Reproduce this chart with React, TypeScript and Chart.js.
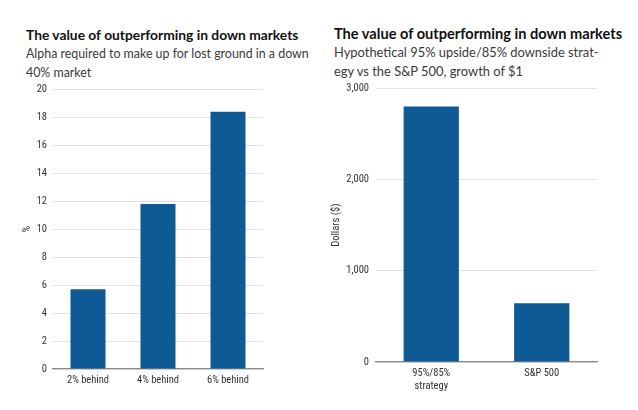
import React, { useEffect, useRef } from "react";
import { Chart, registerables } from "chart.js";

Chart.register(...registerables);

const leftTitle = "The value of outperforming in down markets";
const leftSubtitle = ["Alpha required to make up for lost ground in a down", "40% market"];
const leftCategories = ["2% behind", "4% behind", "6% behind"];
const leftValues = [5.7, 11.8, 18.4];
const leftAxisTitle = "%";

const rightTitle = "The value of outperforming in down markets";
const rightSubtitle = ["Hypothetical 95% upside/85% downside strat-", "egy vs the S&P 500, growth of $1"];
const rightCategories = [["95%/85%", "strategy"], "S&P 500"];
const rightValues = [2800, 645];
const rightAxisTitle = "Dollars ($)";

const BAR = "#0e5a95";
const TICK_FONT = "'Liberation Sans Narrow', 'Roboto Condensed', 'DejaVu Sans Condensed', sans-serif";

type PanelProps = {
  labels: any[];
  values: number[];
  max: number;
  step: number;
  axisTitle: string;
  yWidth: number;
  xHeight: number;
  padRight: number;
  width: number;
  height: number;
  titlePad: number;
  tickPad: number;
  comma: boolean;
};

function BarPanel(p: PanelProps) {
  const ref = useRef<HTMLCanvasElement>(null);
  useEffect(() => {
    if (!ref.current) return;
    const chart = new Chart(ref.current, {
      type: "bar",
      data: {
        labels: p.labels,
        datasets: [
          {
            data: p.values,
            backgroundColor: BAR,
            borderWidth: 0,
            barPercentage: 0.5,
            categoryPercentage: 1,
          },
        ],
      },
      options: {
        animation: false,
        responsive: false,
        maintainAspectRatio: false,
        layout: { padding: { left: 0, right: p.padRight, top: 0, bottom: 0 } },
        plugins: { legend: { display: false }, tooltip: { enabled: false } },
        scales: {
          x: {
            grid: { display: false, drawTicks: false },
            border: { display: true, color: "#8a8a8a", width: 1.2 },
            ticks: {
              color: "#333",
              font: { family: TICK_FONT, size: 10.5 },
              padding: 5,
              maxRotation: 0,
            },
            afterFit: (s: any) => {
              s.height = p.xHeight;
            },
          },
          y: {
            min: 0,
            max: p.max,
            grid: { color: "#e3e3e3", drawTicks: false, lineWidth: 1 },
            border: { display: false },
            ticks: {
              stepSize: p.step,
              color: "#333",
              font: { family: TICK_FONT, size: 10.5 },
              padding: p.tickPad,
              callback: (v: any) => (p.comma ? Number(v).toLocaleString("en-US") : String(v)),
            },
            title: {
              display: true,
              text: p.axisTitle,
              color: "#333",
              font: { family: TICK_FONT, size: 10.5 },
              padding: { top: p.titlePad, bottom: 0 },
            },
            afterFit: (s: any) => {
              s.width = p.yWidth;
            },
          },
        },
      },
    });
    return () => chart.destroy();
  }, []);
  return <canvas ref={ref} width={p.width} height={p.height} style={{ width: p.width, height: p.height, display: "block" }} />;
}

const titleStyle: React.CSSProperties = {
  position: "absolute",
  fontFamily: "Lato, 'Open Sans', sans-serif",
  fontWeight: 700,
  color: "#111",
  whiteSpace: "nowrap",
  margin: 0,
};
const subStyle: React.CSSProperties = {
  position: "absolute",
  fontFamily: "Lato, 'Open Sans', sans-serif",
  fontWeight: 400,
  color: "#3a3a3a",
  whiteSpace: "nowrap",
  margin: 0,
};

export default function App() {
  return (
    <div style={{ position: "fixed", left: 0, top: 0, width: 638, height: 410, background: "#fff", overflow: "hidden" }}>
      <div style={{ ...titleStyle, left: 26, top: 26, fontSize: 13.8, lineHeight: "18px" }}>{leftTitle}</div>
      <div style={{ ...subStyle, left: 26, top: 44, fontSize: 12.4, lineHeight: "19px" }}>
        {leftSubtitle.map((l, i) => (
          <div key={i}>{l}</div>
        ))}
      </div>
      <div style={{ ...titleStyle, left: 334, top: 25, fontSize: 14.6, lineHeight: "18px" }}>{rightTitle}</div>
      <div style={{ ...subStyle, left: 334, top: 43, fontSize: 12.9, lineHeight: "19px" }}>
        {rightSubtitle.map((l, i) => (
          <div key={i}>{l}</div>
        ))}
      </div>
      <div style={{ position: "absolute", left: 0, top: 77 }}>
        <BarPanel
          labels={leftCategories}
          values={leftValues}
          max={20}
          step={2}
          axisTitle={leftAxisTitle}
          yWidth={53}
          xHeight={28}
          padRight={37}
          width={300}
          height={320}
          titlePad={21.5}
          tickPad={6}
          comma={false}
        />
      </div>
      <div style={{ position: "absolute", left: 318, top: 75 }}>
        <BarPanel
          labels={rightCategories}
          values={rightValues}
          max={3000}
          step={1000}
          axisTitle={rightAxisTitle}
          yWidth={58}
          xHeight={33}
          padRight={41}
          width={320}
          height={320}
          titlePad={12.5}
          tickPad={7}
          comma={true}
        />
      </div>
    </div>
  );
}
